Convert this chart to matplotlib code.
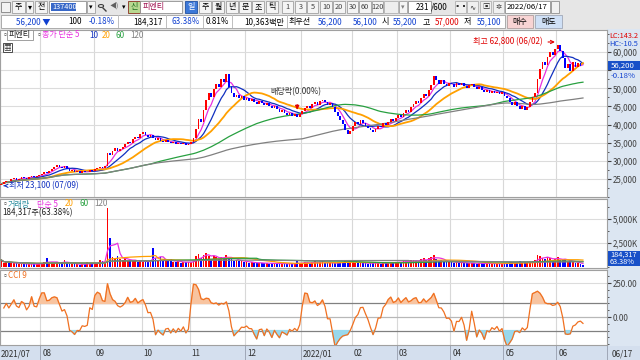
import numpy as np
import pandas as pd
import matplotlib
matplotlib.use("Agg")
import matplotlib.pyplot as plt
from matplotlib.patches import Rectangle, Circle
from matplotlib.lines import Line2D
from matplotlib.ticker import FuncFormatter, MultipleLocator

plt.rcParams['font.family'] = ['Noto Sans CJK KR', 'DejaVu Sans']
plt.rcParams['axes.unicode_minus'] = False

# daily closes (won), one list per month
close_jul = [23600, 24100, 24500, 24300, 24900, 25200, 24800, 25000, 25600, 25300,
             25100, 25500, 25900, 25400, 25700, 26000]
close_aug = [26400, 26900, 26600, 27300, 27800, 28400, 28900, 28300, 27900, 28500,
             27700, 27200, 27500, 26900, 27100, 26700, 27200, 26800, 27000, 27400, 27100]
close_sep = [27600, 27900, 28300, 28100, 28600, 32100, 31500, 32800, 33500, 32700,
             33200, 33900, 34600, 35300, 34800, 35900, 36700, 36200, 37400]
close_oct = [37900, 37200, 36500, 37100, 36400, 35800, 36300, 35600, 35100, 35700,
             35300, 34800, 35200, 34600, 35000, 34500, 34900, 34300, 34700]
close_nov = [35200, 36400, 38900, 41500, 40800, 43900, 46800, 48600, 47500, 49800,
             51200, 50300, 52600, 51800, 53900, 50400, 48700, 47600, 48300, 47200, 47900, 46800]
close_dec = [47400, 46600, 47100, 46200, 45800, 46500, 45900, 45300, 45900, 45100,
             44600, 45200, 44200, 43600, 44100, 43200, 42700, 43300, 42500, 42900, 42200, 43000]
close_jan = [43800, 44500, 45200, 44600, 45600, 46200, 45500, 46400, 46900, 46100,
             45400, 45900, 44800, 43600, 42500, 41200, 40100, 38600, 37300, 38200]
close_feb = [39500, 40600, 40100, 41200, 40400, 39600, 39100, 38500, 38000, 38900,
             39700, 39200, 40300, 39800, 40700, 41400, 40900, 41800]
close_mar = [42600, 42100, 43300, 44100, 43600, 44800, 45700, 46500, 45900, 47200,
             48400, 47800, 49600, 50800, 53500, 52200, 51300, 52400, 51100, 50600, 51500]
close_apr = [51200, 50500, 51600, 50900, 51400, 50700, 50100, 50800, 51300, 50400,
             49800, 50300, 49500, 48900, 49600, 48700, 49300, 48600, 49100, 48400, 48900]
close_may = [48000, 47200, 46300, 45400, 46100, 45000, 44300, 45200, 44000, 44800,
             46300, 47500, 48800, 52600, 55400, 57300, 56400, 58700, 59900, 59300, 60800]
close_jun = [61900, 60300, 58400, 55600, 56700, 54900, 57200, 55800, 57100, 56300, 56200]
first_open = 23300

# daily volume (thousand shares)
vol_jul = [730, 400, 500, 450, 420, 380, 400, 330, 350, 300, 320, 280, 310, 290, 330, 350]
vol_aug = [420, 480, 900, 400, 450, 380, 520, 480, 450, 700, 380, 330, 300, 280, 350,
           260, 300, 280, 480, 320, 350]
vol_sep = [400, 450, 700, 650, 520, 6150, 3000, 1050, 980, 1200, 800, 700, 900, 650,
           750, 600, 680, 550, 620]
vol_oct = [550, 600, 480, 700, 2000, 900, 750, 1000, 650, 700, 600, 820, 550, 500,
           600, 450, 520, 480, 500]
vol_nov = [520, 700, 1100, 1400, 900, 1300, 1500, 1200, 850, 1100, 1000, 800, 1050,
           900, 1300, 950, 800, 650, 700, 600, 650, 520]
vol_dec = [500, 450, 520, 400, 380, 450, 420, 380, 400, 350, 380, 420, 360, 330, 350,
           380, 320, 350, 300, 330, 600, 350]
vol_jan = [420, 500, 450, 400, 550, 600, 480, 520, 600, 450, 400, 420, 380, 450, 500,
           550, 480, 650, 700, 500]
vol_feb = [500, 450, 420, 480, 400, 380, 350, 420, 500, 380, 400, 350, 450, 400, 480,
           520, 420, 550]
vol_mar = [550, 480, 600, 650, 500, 700, 750, 680, 600, 800, 900, 700, 950, 1000,
           1300, 850, 650, 700, 600, 550, 500]
vol_apr = [500, 450, 520, 420, 480, 400, 380, 420, 450, 380, 350, 400, 380, 350, 420,
           380, 350, 320, 380, 330, 350]
vol_may = [400, 450, 500, 480, 420, 550, 600, 450, 500, 420, 550, 600, 700, 1300,
           1100, 950, 800, 1000, 900, 700, 850]
vol_jun = [1000, 750, 700, 800, 550, 600, 500, 450, 380, 290, 184]

month_labels = ["2021/07", "08", "09", "10", "11", "12", "2022/01", "02", "03", "04", "05", "06"]
closes_by_month = [close_jul, close_aug, close_sep, close_oct, close_nov, close_dec,
                   close_jan, close_feb, close_mar, close_apr, close_may, close_jun]
vols_by_month = [vol_jul, vol_aug, vol_sep, vol_oct, vol_nov, vol_dec,
                 vol_jan, vol_feb, vol_mar, vol_apr, vol_may, vol_jun]

close = np.array(sum(closes_by_month, []), dtype=float)
volume = np.array(sum(vols_by_month, []), dtype=float)
opens = np.r_[first_open, close[:-1]]
n = len(close)
x = np.arange(n)
month_start = np.cumsum([0] + [len(m) for m in closes_by_month[:-1]])
up = close >= opens
bar_col = np.where(up, '#ff0000', '#0000ff')

cs = pd.Series(close)
ma_cols = {5: '#e830e0', 10: '#1030c0', 20: '#ffa000', 60: '#28a040', 120: '#808080'}
vs = pd.Series(volume)

hi = np.maximum(opens, close)
lo = np.minimum(opens, close)
tp = pd.Series((hi + lo + close) / 3)
sma = tp.rolling(9, min_periods=2).mean()
mdev = tp.rolling(9, min_periods=2).apply(lambda a: np.mean(np.abs(a - a.mean())), raw=True)
cci = ((tp - sma) / (0.015 * mdev)).values

W, H = 640, 360
XR = (-0.5, 239.5)
FS = 5.8


def box(x0, y0, x1, y1):
    return [x0 / W, 1 - y1 / H, (x1 - x0) / W, (y1 - y0) / H]


fig = plt.figure(figsize=(6.4, 3.6), dpi=100)
fig.patch.set_facecolor('#e6e6e6')


def rect(x0, y0, x1, y1, fc, ec='none', lw=0.6, z=1):
    fig.add_artist(Rectangle((x0 / W, 1 - y1 / H), (x1 - x0) / W, (y1 - y0) / H,
                             transform=fig.transFigure, facecolor=fc, edgecolor=ec,
                             lw=lw, zorder=z))


def txt(xp, yp, s, color='black', size=FS, ha='left', z=3, **kw):
    fig.text(xp / W, 1 - yp / H, s, color=color, fontsize=size, ha=ha, va='center',
             zorder=z, **kw)


# ---- toolbar row 1
rect(0, 0, 640, 14, '#e6e6e6')
rect(1, 2, 10, 12, '#f2f2f2', '#808080')
for x0, x1, s in [(12, 25, "주"), (26, 33, "▾"), (35, 47, "전")]:
    rect(x0, 1, x1, 13, '#f4f4f4', '#a0a0a0')
    txt((x0 + x1) / 2, 7, s, ha='center')
rect(49, 1, 86, 13, 'white', '#909090')
rect(51, 3, 76, 11, '#3868c8')
txt(52, 7, "137400", color='white', size=5.3)
rect(87, 1, 95, 13, '#f4f4f4', '#a0a0a0')
txt(91, 7, "▾", ha='center', size=5)
# magnifier icon
fig.add_artist(Circle((101 / W, 1 - 6 / H), 2.6 / W, transform=fig.transFigure,
                      fill=False, edgecolor='#404040', lw=0.8))
fig.add_artist(Line2D([103 / W, 106 / W], [1 - 8 / H, 1 - 11 / H],
                      transform=fig.transFigure, color='#404040', lw=1))
txt(114, 7, "◀)", ha='center', size=5, color='#606060')
txt(124, 7, "▾", ha='center', size=5)
rect(128, 1, 140, 13, '#b8d890', '#8a3020')
txt(134, 7, "신", color='#207020', ha='center')
rect(140, 1, 182, 13, 'white', '#909090')
txt(143, 7, "피엔티", color='#a01050')
rect(185, 1, 197, 13, '#3c78d8', '#2050a0')
txt(191, 7, "일", color='white', ha='center')
for x0, s in [(199, "주"), (212, "월"), (226, "년"), (239, "분"), (252, "초"), (266, "틱")]:
    rect(x0, 1, x0 + 12, 13, '#f4f4f4', '#a0a0a0')
    txt(x0 + 6, 7, s, ha='center')
for x0, x1, s in [(282, 293, "1"), (295, 306, "3"), (307, 318, "5"), (320, 332, "10"),
                  (333, 345, "20"), (347, 358, "30"), (359, 371, "60"), (372, 383, "120")]:
    rect(x0, 1, x1, 13, '#f4f4f4', '#a0a0a0')
    txt((x0 + x1) / 2, 7, s, ha='center', size=5.3, color='#404040')
rect(384, 1, 398, 13, '#eeeeee', '#b0b0b0')
rect(399, 1, 407, 13, '#f4f4f4', '#a0a0a0')
txt(403, 7, "▾", ha='center', size=5, color='#808080')
rect(408, 1, 431, 13, 'white', '#909090')
txt(429, 7, "231", ha='right')
txt(431, 7, "/600")
for x0, s in [(455, "▪▪"), (467, "∿"), (480, "▣"), (493, "✲")]:
    rect(x0, 1, x0 + 11, 13, '#f0f0f0', '#b0b0b0')
    txt(x0 + 5.5, 7, s, ha='center', size=5.3, color='#303030')
rect(505, 1, 550, 13, 'white', '#909090')
txt(507, 7, "2022/06/17", size=5.6)
rect(551, 1, 559, 13, '#f0f0f0', '#909090')

# ---- toolbar row 2
rect(1, 15, 505, 28, 'white', '#a0a0a0')
for xs in [118, 166, 203, 232, 287]:
    rect(xs, 15, xs + 0.6, 28, '#c0c0c0')
txt(50, 21.5, "56,200 ▼", color='#1040d0', ha='right')
txt(82, 21.5, "100", ha='right')
txt(115, 21.5, "-0.18%", color='#1040d0', ha='right')
txt(163, 21.5, "184,317", ha='right')
txt(200, 21.5, "63.38%", color='#1040d0', ha='right')
txt(229, 21.5, "0.81%", ha='right')
txt(284, 21.5, "10,363백만", ha='right')
txt(289, 21.5, "최우선")
txt(342, 21.5, "56,200", color='#1040d0', ha='right')
txt(378, 21.5, "56,100", color='#1040d0', ha='right')
txt(382, 21.5, "시")
txt(417, 21.5, "55,200", color='#1040d0', ha='right')
txt(423, 21.5, "고")
txt(459, 21.5, "57,000", color='#e00000', ha='right')
txt(464, 21.5, "저")
txt(501, 21.5, "55,100", color='#1040d0', ha='right')
rect(507, 15, 533, 28, '#f8d4d4', '#b0a0a0')
txt(520, 21.5, "매수", ha='center')
rect(535, 15, 562, 28, '#cfe0f6', '#a0a8b8')
txt(548.5, 21.5, "매도", ha='center')

# ---- right axis and date strip backgrounds
rect(607, 29, 640, 346, '#dce6f2', z=-1)
rect(0, 346, 640, 360, '#d4dfee', z=-1)


def style_panel(ax):
    ax.set_facecolor('white')
    ax.set_xlim(*XR)
    ax.set_xticks([])
    ax.yaxis.tick_right()
    ax.tick_params(axis='y', which='both', direction='out', length=3, pad=1,
                   labelsize=5.8, colors='#404040', labelcolor='#404040')
    ax.tick_params(axis='y', which='minor', length=1.5)
    for s in ax.spines.values():
        s.set_color('#a0a0a0')
        s.set_linewidth(0.8)
    for m in month_start:
        ax.axvline(m - 0.5, color='#d8d8d8', lw=0.8, zorder=0)


# ---- price panel
ax_p = fig.add_axes(box(0, 30, 607, 197))
style_panel(ax_p)
ax_p.set_ylim(20000, 66111)
ax_p.set_yticks(np.arange(25000, 60001, 5000))
ax_p.yaxis.set_minor_locator(MultipleLocator(2500))
# the 55,000 label sits under the current-price box, so it stays blank
ax_p.yaxis.set_major_formatter(FuncFormatter(lambda v, p: "" if v == 55000 else f"{v:,.0f}"))
for lv in np.arange(25000, 60001, 5000):
    ax_p.axhline(lv, color='#dcdcdc', lw=0.8, zorder=0)
for k, c in ma_cols.items():
    ax_p.plot(x, cs.rolling(k, min_periods=1).mean(), color=c,
              lw=1.3 if k == 20 else 0.9, zorder=2)
ax_p.bar(x, close - opens, bottom=opens, width=0.7, color=bar_col, zorder=3)

txt(2, 35, "▫", color='#505050', size=5)
rect(7, 30.5, 33, 40, 'white', '#909090', z=3)
txt(9, 35, "피엔티", color='#202020', z=4)
txt(36, 35, "▫", color='#505050', size=5)
txt(42, 35, "종가 단순 5", color=ma_cols[5])
txt(89, 35, "10", color=ma_cols[10])
txt(102, 35, "20", color=ma_cols[20])
txt(116, 35, "60", color=ma_cols[60])
txt(130, 35, "120", color=ma_cols[120])
rect(3, 43, 12, 52, 'white', '#303030', z=3)
txt(7.5, 47.5, "▦", ha='center', size=5.5, color='#303030', z=4)

ax_p.annotate("최고 62,800 (06/02)", xy=(220, 62800), xytext=(214, 62800),
              fontsize=FS, color='#e00000', ha='right', va='center',
              arrowprops=dict(arrowstyle='->', color='#e00000', lw=0.8))
ax_p.annotate("최저 23,100 (07/09)", xy=(-0.2, 23100), xytext=(3.2, 23100),
              fontsize=FS, color='#1030c0', ha='left', va='center',
              arrowprops=dict(arrowstyle='->', color='#1030c0', lw=0.8))
ax_p.text(116.5, 49000, "배당락(0.00%)", fontsize=FS, color='#303030', ha='center', va='center')
ax_p.annotate("", xy=(117, 43300), xytext=(117, 46300),
              arrowprops=dict(arrowstyle='-|>', color='#e00000', lw=0.8, mutation_scale=6))

txt(609, 36, "LC:143.2", color='#e00000', size=5.3)
txt(609, 44.5, "HC:-10.5", color='#1040d0', size=5.3)
rect(608, 61, 640, 70, '#1850c8', z=3)
txt(611, 65.3, "56,200", color='white', z=4, size=5.6)
txt(611, 75.5, "-0.18%", color='#1040d0', z=4, size=5.6)

# ---- volume panel
ax_v = fig.add_axes(box(0, 199, 607, 268))
style_panel(ax_v)
ax_v.set_ylim(-100, 7080)
ax_v.set_yticks([2500, 5000])
ax_v.yaxis.set_minor_locator(MultipleLocator(1250))
ax_v.yaxis.set_major_formatter(FuncFormatter(lambda v, p: f"{v:,.0f}K"))
for lv in [2500, 5000]:
    ax_v.axhline(lv, color='#dcdcdc', lw=0.8, zorder=0)
ax_v.bar(x, volume, width=0.7, color=bar_col, zorder=2)
for k, c in [(5, '#e830e0'), (20, '#ffa000'), (60, '#28a040'), (120, '#808080')]:
    ax_v.plot(x, vs.rolling(k, min_periods=1).mean(), color=c, lw=0.9, zorder=3)
txt(2, 204, "▫", color='#505050', size=5)
txt(8, 204, "거래량", color='#3090a0')
txt(37, 204, "단순 5", color='#e830e0')
txt(65, 204, "20", color='#ffa000')
txt(79, 204, "60", color='#28a040')
txt(94, 204, "120", color='#808080')
txt(2, 213, "184,317주(63.38%)", color='#202020')
rect(608, 251, 640, 266, '#1850c8', z=3)
txt(610, 254.5, "184,317", color='white', z=4, size=5.3)
txt(610, 262, "63.38%", color='white', z=4, size=5.3)

# ---- CCI panel
ax_c = fig.add_axes(box(0, 270, 607, 345))
style_panel(ax_c)
ax_c.set_ylim(-206, 346)
ax_c.set_yticks([0, 250])
ax_c.yaxis.set_minor_locator(MultipleLocator(50))
ax_c.yaxis.set_major_formatter(FuncFormatter(lambda v, p: f"{v:.2f}"))
ax_c.axhline(250, color='#dcdcdc', lw=0.8, zorder=0)
ax_c.axhline(100, color='#808080', lw=0.9, zorder=1)
ax_c.axhline(0, color='#b8b8b8', lw=0.9, zorder=1)
ax_c.axhline(-100, color='#808080', lw=0.9, zorder=1)
ax_c.fill_between(x, cci, 100, where=cci > 100, interpolate=True, color='#f8c4a0', zorder=2)
ax_c.fill_between(x, cci, -100, where=cci < -100, interpolate=True, color='#98d8ec', zorder=2)
ax_c.plot(x, cci, color='#f07020', lw=0.9, zorder=3)
txt(2, 276, "▫", color='#505050', size=5)
txt(8, 276, "CCI 9", color='#f07020')

# ---- date strip
for m, lab in zip(month_start, month_labels):
    xp = (m - 0.5 - XR[0]) / (XR[1] - XR[0]) * 607
    if m > 0:
        rect(xp, 346, xp + 0.7, 360, '#a0a8b8')
    txt(xp + 2 if m > 0 else 1, 353.5, lab, color='#303030', size=FS)
rect(607, 346, 607.7, 360, '#a0a8b8')
txt(612, 353.5, "06/17", color='#303030', size=FS)

fig.savefig("out.png", dpi=100, facecolor=fig.get_facecolor())
